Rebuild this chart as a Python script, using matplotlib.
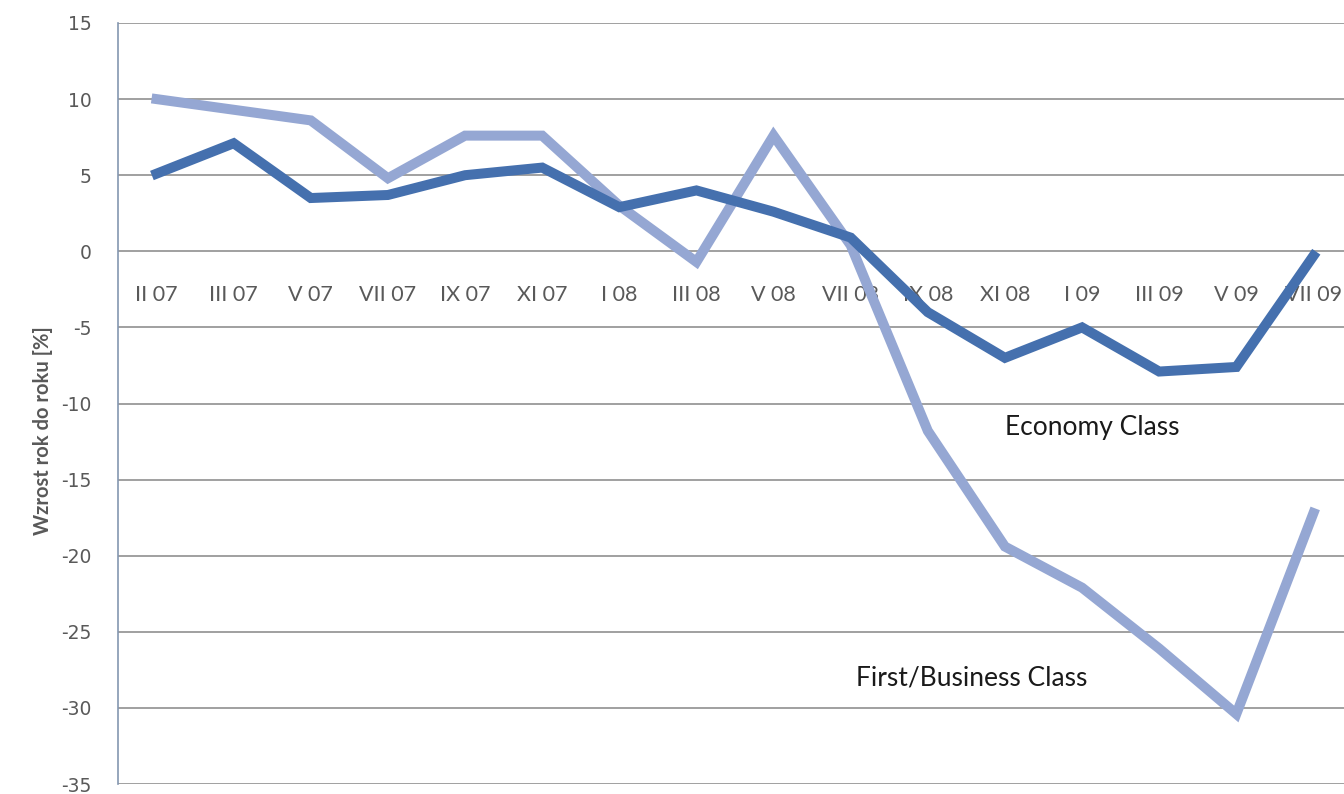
import matplotlib
matplotlib.use("Agg")
import matplotlib.pyplot as plt

# miesiące (co dwa miesiące)
months = ["II 07", "III 07", "V 07", "VII 07", "IX 07", "XI 07", "I 08", "III 08",
          "V 08", "VII 08", "IX 08", "XI 08", "I 09", "III 09", "V 09", "VII 09"]

# wzrost rok do roku [%]
economy = [5.1, 7.1, 3.5, 3.7, 5.0, 5.5, 2.9, 4.0,
           2.6, 0.9, -4.0, -7.0, -5.0, -7.9, -7.6, -0.3]
business = [10.0, 9.3, 8.6, 4.8, 7.6, 7.6, 3.0, -0.7,
            7.6, 0.4, -11.8, -19.4, -22.1, -26.1, -30.4, -17.2]

y_ticks = list(range(-35, 20, 5))

W, H = 1344, 794
fig = plt.figure(figsize=(W / 100, H / 100), dpi=100)
# os wychodzi poza prawa krawedz (oryginal jest przyciety)
ax = fig.add_axes([118 / W, 10 / H, (1352 - 118) / W, (784 - 23) / H])

x = list(range(len(months)))
ax.plot(x, business, color="#95a7d3", lw=7.2, solid_joinstyle="miter", zorder=3)
ax.plot(x, economy, color="#4570ae", lw=7.2, solid_joinstyle="miter", zorder=4)

ax.set_xlim(-0.5, len(months) - 0.5)
ax.set_ylim(-35, 15)
ax.set_yticks(y_ticks)
ax.set_yticklabels([str(v) for v in y_ticks], fontsize=13.5, color="#595959",
                   family="DejaVu Sans")
ax.yaxis.grid(True, color="#868686", lw=1.1)
ax.set_axisbelow(True)
ax.tick_params(axis="y", length=0, pad=19)

# etykiety osi X przy linii zera
ax.spines["bottom"].set_position(("data", 0))
ax.spines["bottom"].set_visible(False)
ax.set_xticks(x)
ax.set_xticklabels(months, fontsize=15.5, color="#595959", family="Lato")
ax.tick_params(axis="x", length=0, pad=24)

for s in ["top", "right"]:
    ax.spines[s].set_visible(False)
ax.spines["left"].set_color("#8497b0")
ax.spines["left"].set_linewidth(1.2)

ax.set_ylabel("Wzrost rok do roku [%]", fontsize=14.5, fontweight="bold",
              color="#595959", family="Lato")
ax.yaxis.set_label_coords(-0.053, 0.464)

ax.text(12.13, -11.6, "Economy Class", fontsize=19, color="#1a1a1a",
        family="Lato", ha="center", va="center")
ax.text(10.57, -28.05, "First/Business Class", fontsize=19, color="#1a1a1a",
        family="Lato", ha="center", va="center")

fig.savefig("out.png", dpi=100)
